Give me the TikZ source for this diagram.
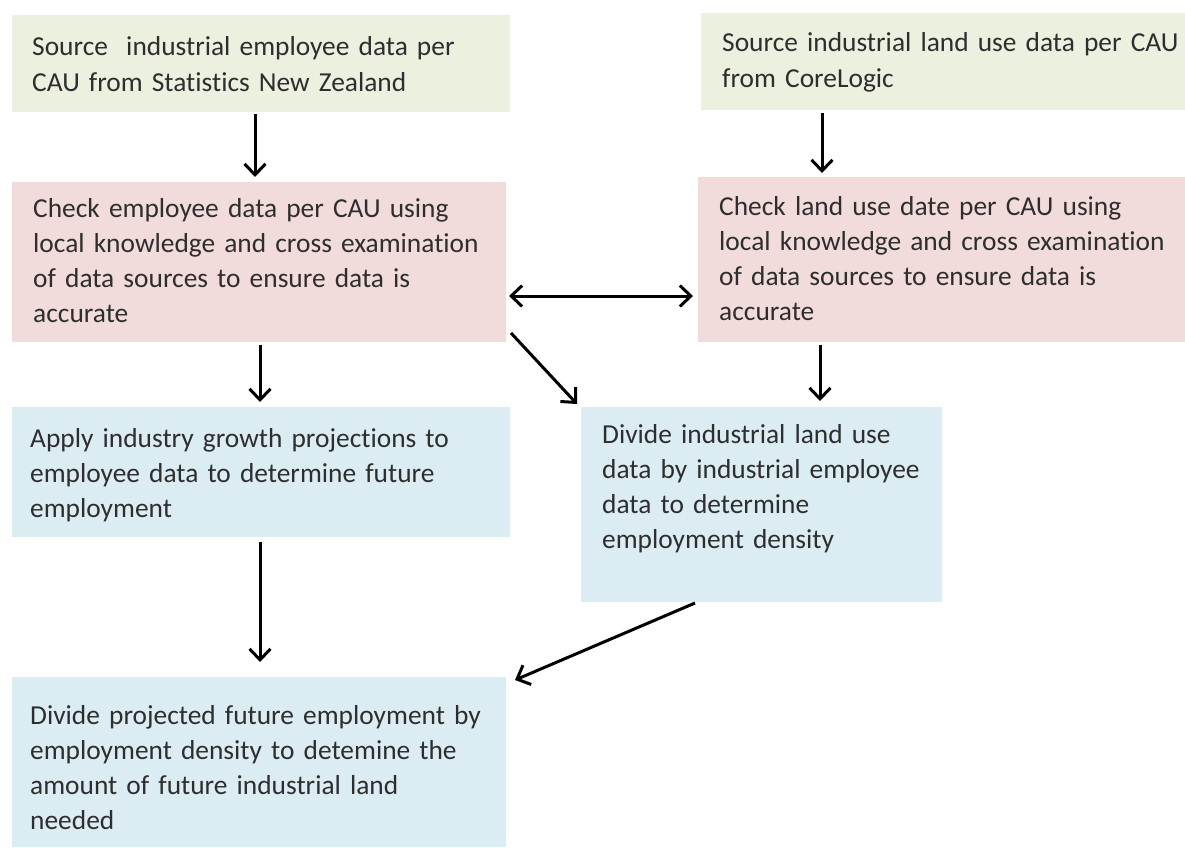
\documentclass[tikz,border=0pt]{standalone}
\usepackage{fontspec}
\setmainfont[Ligatures=NoCommon]{Carlito}
\usetikzlibrary{arrows.meta}
\definecolor{gfill}{HTML}{EBF0DF}
\definecolor{pfill}{HTML}{F2DCDB}
\definecolor{bfill}{HTML}{DBEDF3}
\definecolor{txt}{HTML}{2E2E2E}
\begin{document}
\begin{tikzpicture}[x=1pt,y=-1pt,
  box/.style={draw=none,inner sep=0pt,outer sep=0pt},
  gbox/.style={box,fill=gfill},
  pbox/.style={box,fill=pfill},
  bbox/.style={box,fill=bfill},
  lbl/.style={anchor=base west,inner sep=0pt,text=txt,align=left,text width=#1,
    font=\fontsize{27.4}{35}\selectfont},
  lbl/.default=480pt,
  glbl/.style={lbl,font=\fontsize{27.4}{36.5}\selectfont},
  arr/.style={line width=3pt,-{Straight Barb[length=11pt,width=21pt,line width=3pt]}},
  dbl/.style={line width=3pt,{Straight Barb[length=11pt,width=21pt,line width=3pt]}-{Straight Barb[length=11pt,width=21pt,line width=3pt]}}
]
\useasboundingbox (0,0) rectangle (1185,847);
% boxes
\node[gbox,minimum width=498pt,minimum height=97pt] (b1) at (261,63.5) {};
\node[gbox,minimum width=484pt,minimum height=97pt] (b2) at (943,61.5) {};
\node[pbox,minimum width=494pt,minimum height=160pt] (b3) at (259,262) {};
\node[pbox,minimum width=487pt,minimum height=165pt] (b4) at (941.5,259.5) {};
\node[bbox,minimum width=498pt,minimum height=130pt] (b5) at (261,472) {};
\node[bbox,minimum width=361pt,minimum height=195pt] (b6) at (761.5,504.5) {};
\node[bbox,minimum width=494pt,minimum height=170pt] (b7) at (259,762) {};
% texts
\node[glbl] (t1) at (32,55) {Source\ \ industrial employee data per\\CAU from Statistics New Zealand};
\node[glbl] (t2) at (722,51) {Source industrial land use data per CAU\\from CoreLogic};
\node[lbl] (t3) at (33,217) {Check employee data per CAU using\\local knowledge and cross examination\\of data sources to ensure data is\\accurate};
\node[lbl] (t4) at (719,215) {Check land use date per CAU using\\local knowledge and cross examination\\of data sources to ensure data is\\accurate};
\node[lbl] (t5) at (30,447) {Apply industry growth projections to\\employee data to determine future\\employment};
\node[lbl=330pt] (t6) at (602,443) {Divide industrial land use\\data by industrial employee\\data to determine\\employment density};
\node[lbl] (t7) at (30,724) {Divide projected future employment by\\employment density to detemine the\\amount of future industrial land\\needed};
% connectors
\draw[arr,shorten >=5pt,shorten <=2pt] ([xshift=-6pt]b1.south) -- ([xshift=-6pt]b1.south |- b3.north);
\draw[arr,shorten >=4pt,shorten <=3pt] ([xshift=-121pt]b2.south) -- ([xshift=-121pt]b2.south |- b4.north);
\draw[dbl,shorten <=3pt,shorten >=5pt] ([yshift=-34pt]b3.east) -- ([yshift=-34pt]b3.east -| b4.west);
\draw[arr,shorten >=5pt,shorten <=3pt] ([xshift=1pt]b3.south) -- ([xshift=1pt]b3.south |- b5.north);
\draw[arr] ([shift={(5pt,9pt)}]b3.south east) -- ([shift={(-4pt,3pt)}]b6.north west);
\draw[arr,shorten >=6pt,shorten <=3pt] ([xshift=-121.5pt]b4.south) -- ([xshift=-121.5pt]b4.south |- b6.north);
\draw[arr,shorten >=15pt,shorten <=5pt] ([xshift=-1pt]b5.south) -- ([xshift=-1pt]b5.south |- b7.north);
\draw[arr] ([shift={(-66.5pt,-1pt)}]b6.south) -- ([shift={(9pt,-3pt)}]b7.north east);
\end{tikzpicture}
\end{document}
